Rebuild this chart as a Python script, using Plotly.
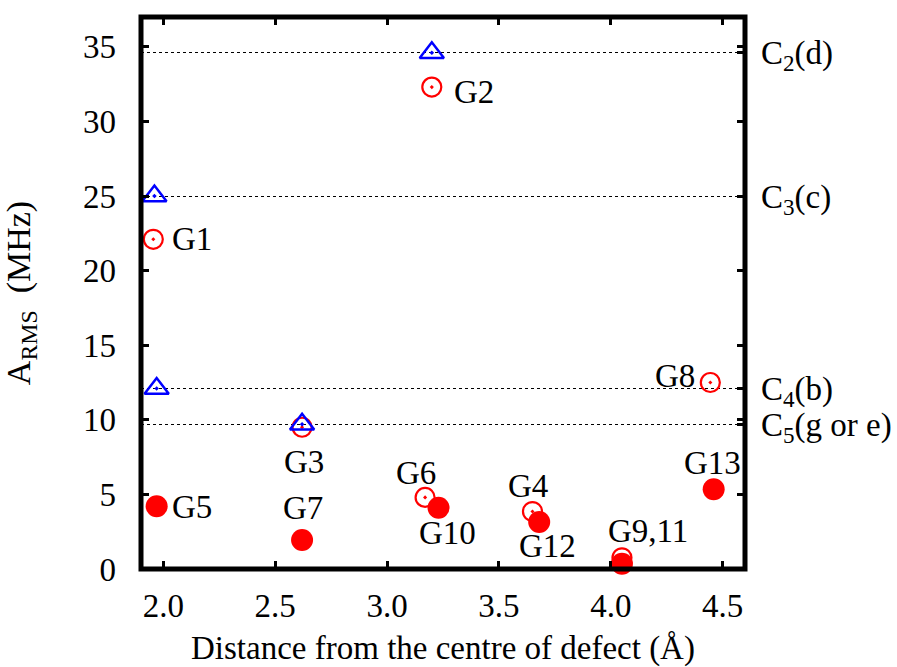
import plotly.graph_objects as go

# Calculated site values (triangles) and C-site reference levels
calc_x = [1.96, 1.97, 2.62, 3.20]
calc_y = [25.0, 12.1, 9.7, 34.6]

c_levels = [34.6, 25.0, 12.1, 9.7]
c_names = ["C<sub>2</sub>(d)", "C<sub>3</sub>(c)", "C<sub>4</sub>(b)", "C<sub>5</sub>(g or e)"]

# Open circles
open_labels = ["G1", "G2", "G3", "G8", "G6", "G4", "G9,11"]
open_x = [1.955, 3.20, 2.62, 4.445, 3.17, 3.65, 4.05]
open_y = [22.1, 32.3, 9.5, 12.5, 4.8, 3.85, 0.75]

# Filled circles
fill_labels = ["G5", "G7", "G10", "G12", "", "G13"]
fill_x = [1.97, 2.62, 3.23, 3.68, 4.05, 4.46]
fill_y = [4.2, 1.95, 4.1, 3.15, 0.35, 5.35]

x_ticks = [2.0, 2.5, 3.0, 3.5, 4.0, 4.5]
y_ticks = [0, 5, 10, 15, 20, 25, 30, 35]

FONT = "Liberation Serif"
FS = 33
RED = "#ff0000"
BLUE = "#0000ff"

fig = go.Figure()

fig.add_trace(go.Scatter(
    x=open_x, y=open_y, mode="markers", cliponaxis=False,
    marker=dict(symbol="circle-open-dot", size=19, color=RED, line=dict(width=2.2, color=RED)),
    showlegend=False))
fig.add_trace(go.Scatter(
    x=fill_x, y=fill_y, mode="markers", cliponaxis=False,
    marker=dict(symbol="circle", size=22, color=RED, line=dict(width=0)),
    showlegend=False))
fig.add_trace(go.Scatter(
    x=calc_x, y=calc_y, yaxis="y2", mode="markers", cliponaxis=False,
    marker=dict(symbol="triangle-up-open-dot", size=21, color=BLUE, line=dict(width=2.5, color=BLUE)),
    showlegend=False))

# label offsets in pixels (xshift, yshift, xanchor)
label_pos = {
    "G1": (17, 0, "left"),
    "G2": (20, -5, "left"),
    "G3": (2, -35, "center"),
    "G8": (-13, 7, "right"),
    "G6": (-9, 24, "center"),
    "G4": (-4, 26, "center"),
    "G9,11": (26, 27, "center"),
    "G5": (13, -1, "left"),
    "G7": (1, 32, "center"),
    "G10": (9, -25, "center"),
    "G12": (8, -24, "center"),
    "G13": (-1, 26, "center"),
}

for lab, x, y in list(zip(open_labels, open_x, open_y)) + list(zip(fill_labels, fill_x, fill_y)):
    if lab not in label_pos:
        continue
    dx, dy, anc = label_pos[lab]
    fig.add_annotation(x=x, y=y, text=lab, showarrow=False, xanchor=anc, yanchor="middle",
                       xshift=dx, yshift=dy, font=dict(family=FONT, size=FS, color="black"))

# frame
fig.add_shape(type="rect", xref="paper", yref="paper", x0=0, x1=1, y0=0, y1=1,
              line=dict(color="black", width=5), layer="above")

axis_common = dict(ticks="inside", ticklen=8, tickwidth=3, tickcolor="black",
                   showline=False, zeroline=False, showgrid=False, automargin=False,
                   tickfont=dict(family=FONT, size=FS, color="black"))

fig.update_layout(
    width=897, height=667,
    margin=dict(l=141, r=152, t=17, b=98),
    paper_bgcolor="white", plot_bgcolor="white",
    xaxis=dict(range=[1.9, 4.6], tickvals=x_ticks, ticktext=[f"{v:.1f}" for v in x_ticks],
               mirror="ticks", ticklabelstandoff=14,
               title=dict(text="Distance from the centre of defect (Å)",
                          font=dict(family=FONT, size=FS, color="black"), standoff=22),
               **axis_common),
    yaxis=dict(range=[0, 37], tickvals=y_ticks, mirror="ticks",
               title=dict(text="A<sub>RMS</sub>\u00a0\u00a0(MHz)",
                          font=dict(family=FONT, size=34, color="black"), standoff=42),
               ticklabelstandoff=24,
               **axis_common),
    yaxis2=dict(range=[0, 37], overlaying="y", side="right", tickvals=c_levels, ticktext=c_names,
                ticks="inside", ticklen=8, tickwidth=3, tickcolor="black",
                showline=False, zeroline=False, automargin=False,
                showgrid=True, griddash="dot", gridcolor="black", gridwidth=1,
                ticklabelstandoff=15,
                tickfont=dict(family=FONT, size=FS, color="black")),
)

fig.write_html("out.html")
